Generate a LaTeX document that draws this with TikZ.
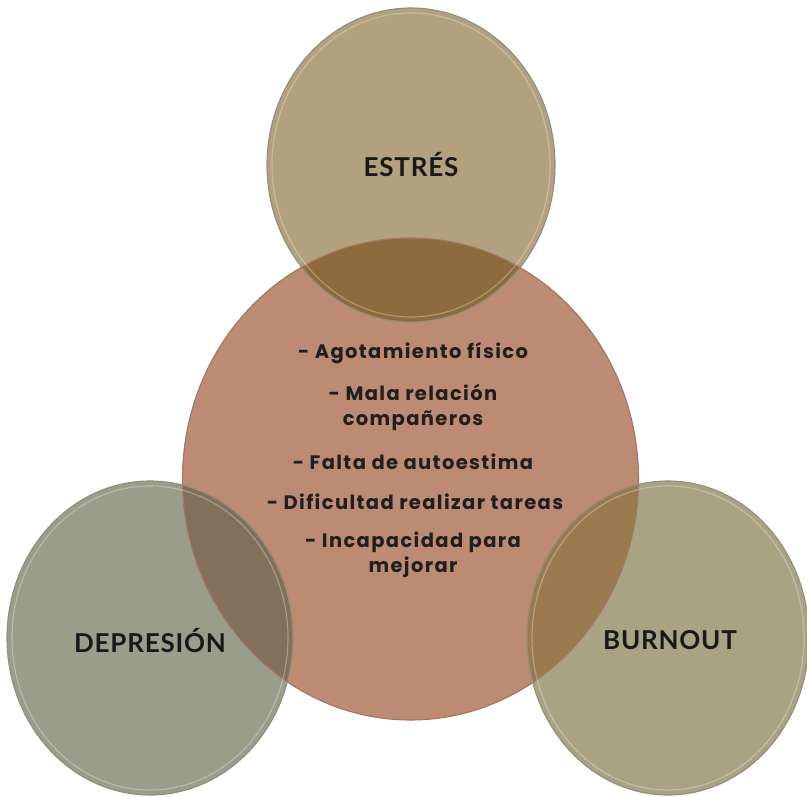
\documentclass[tikz,border=0pt]{standalone}
\usepackage{fontspec}
\newfontfamily\labelfont{Lato}[LetterSpace=3]
\newfontfamily\listfont{Poppins}[LetterSpace=7]
\definecolor{centro}{HTML}{BD8B73}
\definecolor{estres}{HTML}{B3A07F}
\definecolor{depre}{HTML}{9B9D8B}
\definecolor{burn}{HTML}{A9A384}
\definecolor{estreslens}{HTML}{8E6B3C}
\definecolor{deprelens}{HTML}{84705A}
\definecolor{burnlens}{HTML}{9A7B50}
\definecolor{rim}{HTML}{928E7C}

\begin{document}
\begin{tikzpicture}[x=1pt,y=-1pt,
  ring/.style={draw=rim, line width=1.1pt},
  shine/.style={draw=white, draw opacity=0.3, line width=1.1pt},
  bigword/.style={font=\labelfont\bfseries\fontsize{26}{26}\selectfont, text=black!90},
  item/.style={font=\listfont\bfseries\fontsize{19.5}{25}\selectfont, align=center, text=black!88}]
\useasboundingbox[fill=white] (0,0) rectangle (807,797);
% circles
\fill[centro] (410.5,479) ellipse [x radius=228, y radius=241];
\fill[estres] (411,165) ellipse [x radius=144, y radius=157];
\fill[depre] (150,638) ellipse [x radius=143, y radius=157];
\fill[burn] (668,638) ellipse [x radius=141, y radius=157];
% overlaps
\begin{scope}
\clip (410.5,479) ellipse [x radius=228, y radius=241];
\fill[estreslens] (411,165) ellipse [x radius=144, y radius=157];
\fill[deprelens] (150,638) ellipse [x radius=143, y radius=157];
\fill[burnlens] (668,638) ellipse [x radius=141, y radius=157];
\end{scope}
% rims
\draw[ring, draw=centro!85!black] (410.5,479) ellipse [x radius=228, y radius=241];
\draw[ring] (411,165) ellipse [x radius=144, y radius=157];
\draw[ring] (150,638) ellipse [x radius=143, y radius=157];
\draw[ring] (668,638) ellipse [x radius=141, y radius=157];
\draw[shine] (411,165) ellipse [x radius=139, y radius=152];
\draw[shine] (150,638) ellipse [x radius=138, y radius=152];
\draw[shine] (668,638) ellipse [x radius=136, y radius=152];
% labels
\node[bigword] (estres) at (411,165) {ESTRÉS};
\node[bigword] (depresion) at (150,641) {DEPRESIÓN};
\node[bigword] (burnout) at (670,640) {BURNOUT};
\node[item] (agot) at (413,353) {- Agotamiento físico};
\node[item] (mala) at (413,407) {- Mala relación\\compañeros};
\node[item] (falta) at (413,462) {- Falta de autoestima};
\node[item] (dific) at (415,502) {- Dificultad realizar tareas};
\node[item] (incap) at (413,555) {- Incapacidad para\\mejorar};
\end{tikzpicture}
\end{document}
